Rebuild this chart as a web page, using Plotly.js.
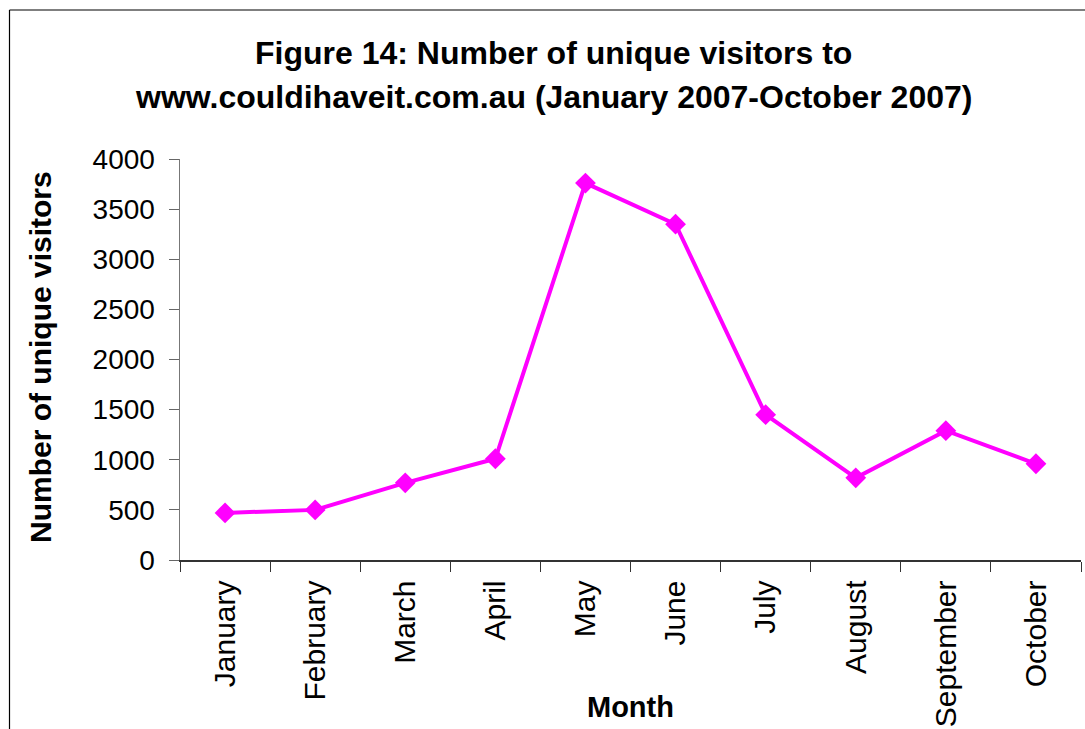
<!DOCTYPE html>
<html>
<head>
<meta charset="utf-8">
<script src="https://cdn.plot.ly/plotly-3.0.1.min.js"></script>
<style>
html, body { margin: 0; padding: 0; background: #fff; }
#chart { width: 1085px; height: 729px; }
</style>
</head>
<body>
<div id="chart"></div>
<script>
// Data
const months = ["January", "February", "March", "April", "May", "June", "July", "August", "September", "October"];
const visitors = [470, 500, 770, 1010, 3760, 3350, 1450, 820, 1290, 960];
const yTicks = [0, 500, 1000, 1500, 2000, 2500, 3000, 3500, 4000];

const titleLine1 = "Figure 14: Number of unique visitors to";
const titleLine2 = "www.couldihaveit.com.au (January 2007-October 2007)";
const xTitle = "Month";
const yTitle = "Number of unique visitors";

const FONT = '"Liberation Sans", Arial, sans-serif';

// Plot-area geometry in pixels (for converting annotation positions)
const W = 1085, H = 729;
const M = { l: 180, r: 4, t: 159, b: 169 };
const pw = W - M.l - M.r, ph = H - M.t - M.b;
const px = x => (x - M.l) / pw;
const py = y => (H - M.b - y) / ph;

const trace = {
  type: 'scatter',
  mode: 'lines+markers',
  x: months,
  y: visitors,
  line: { color: '#FF00FF', width: 4 },
  marker: { symbol: 'diamond', size: 16, color: '#FF00FF' },
  cliponaxis: false,
  hoverinfo: 'x+y'
};

const layout = {
  width: W,
  height: H,
  margin: M,
  paper_bgcolor: '#ffffff',
  plot_bgcolor: '#ffffff',
  showlegend: false,
  font: { family: FONT, color: '#000' },
  xaxis: {
    type: 'category',
    range: [-0.5, months.length - 0.5],
    tickson: 'boundaries',
    ticks: 'outside',
    ticklen: 10,
    tickwidth: 1,
    tickcolor: '#333',
    tickangle: -90,
    ticklabelstandoff: 7,
    tickfont: { family: FONT, size: 30, color: '#000' },
    showline: true,
    linecolor: '#333',
    linewidth: 1.5,
    showgrid: false,
    zeroline: false,
    fixedrange: true
  },
  yaxis: {
    range: [0, 4000],
    tickmode: 'array',
    tickvals: yTicks,
    ticktext: yTicks.map(String),
    ticks: 'outside',
    ticklen: 10,
    tickwidth: 1,
    tickcolor: '#666',
    ticklabelstandoff: 8,
    tickfont: { family: FONT, size: 28, color: '#000' },
    showline: true,
    linecolor: '#777',
    linewidth: 1.5,
    showgrid: false,
    zeroline: false,
    fixedrange: true
  },
  shapes: [
    { type: 'line', xref: 'paper', yref: 'paper',
      x0: px(9.5), x1: px(W + 20), y0: py(10), y1: py(10),
      line: { color: '#000', width: 1.2 }, layer: 'below' },
    { type: 'line', xref: 'paper', yref: 'paper',
      x0: px(9.5), x1: px(9.5), y0: py(10), y1: py(H + 20),
      line: { color: '#000', width: 1.2 }, layer: 'below' }
  ],
  annotations: [
    { text: titleLine1, xref: 'paper', yref: 'paper', x: px(553), y: py(53),
      xanchor: 'center', yanchor: 'middle', showarrow: false,
      font: { family: FONT, size: 32, weight: 'bold', color: '#000' } },
    { text: titleLine2, xref: 'paper', yref: 'paper', x: px(553), y: py(97),
      xanchor: 'center', yanchor: 'middle', showarrow: false,
      font: { family: FONT, size: 32, weight: 'bold', color: '#000' } },
    { text: xTitle, xref: 'paper', yref: 'paper', x: px(630), y: py(707),
      xanchor: 'center', yanchor: 'middle', showarrow: false,
      font: { family: FONT, size: 29, weight: 'bold', color: '#000' } },
    { text: yTitle, xref: 'paper', yref: 'paper', x: px(40), y: py(357),
      xanchor: 'center', yanchor: 'middle', showarrow: false, textangle: -90,
      font: { family: FONT, size: 30, weight: 'bold', color: '#000' } }
  ]
};

Plotly.newPlot('chart', [trace], layout, { displayModeBar: false, staticPlot: true });
</script>
</body>
</html>
